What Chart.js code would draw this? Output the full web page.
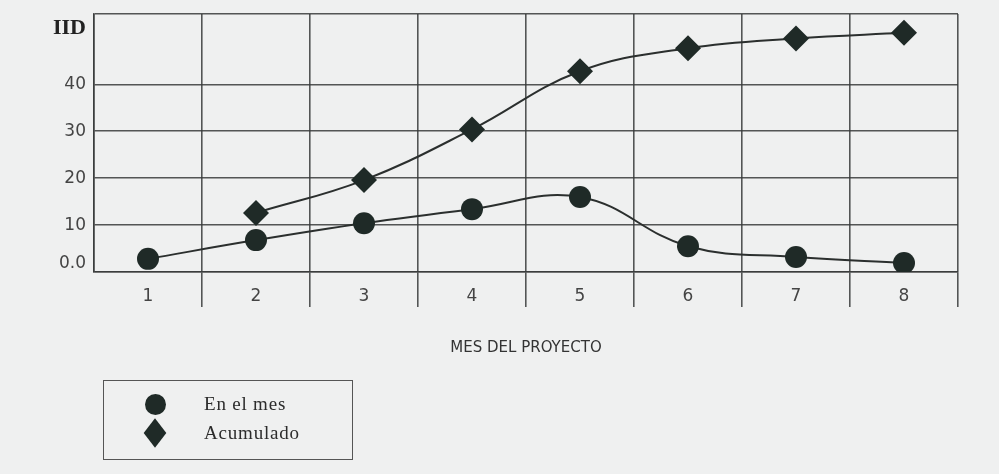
<!DOCTYPE html>
<html>
<head>
<meta charset="utf-8">
<script src="https://cdn.jsdelivr.net/npm/chart.js@4"></script>
<style>
  html, body { margin: 0; padding: 0; background: #eff0f0; }
  #wrap { position: relative; width: 999px; height: 474px; }
  #chart { position: absolute; left: 0; top: 0; }
  #legend {
    position: absolute; left: 103px; top: 380px; width: 250px; height: 80px;
    border: 1.5px solid #555; box-sizing: border-box;
    font-family: "Liberation Serif", "DejaVu Serif", serif; font-size: 19px; letter-spacing: 0.8px; color: #2c2c2c;
  }
  .item { position: absolute; left: 0; height: 26px; width: 100%; }
  .item .lbl { position: absolute; left: 100px; top: 1px; line-height: 22px; }
  .dot { position: absolute; left: 41px; top: 2px; width: 21px; height: 21px; border-radius: 50%; }
  .dia { position: absolute; left: 43px; top: 4px; width: 16px; height: 16px; transform: scaleY(1.3) rotate(45deg); }
</style>
</head>
<body>
<div id="wrap">
  <canvas id="chart" width="999" height="474"></canvas>
  <div id="legend"></div>
</div>
<script>
// Months of the project
const months = ['1', '2', '3', '4', '5', '6', '7', '8'];
// IID per month
const enElMes = [2.8, 6.8, 10.4, 13.4, 16.0, 5.5, 3.2, 1.9];
// Accumulated IID (no value in month 1)
const acumulado = [null, 12.6, 19.6, 30.4, 42.8, 47.7, 49.8, 51.0];
// Y axis tick positions and their labels ('' = grid line only)
const yTickValues = [0, 1.7, 10, 20, 30, 40, 52, 55];
const yTickLabels = ['', '0.0', '10', '20', '30', '40', 'IID', ''];
// Ticks that carry a label but no grid line
const yTickNoGrid = [1.7, 52];

const seriesNames = ['En el mes', 'Acumulado'];
const ink = '#1f2a27';
const gridCol = 'rgba(55,58,58,0.85)';

const chart = new Chart(document.getElementById('chart'), {
  type: 'line',
  data: {
    labels: months,
    datasets: [
      {
        label: seriesNames[0], data: enElMes,
        borderColor: '#2b2f2e', borderWidth: 2, tension: 0.4,
        pointStyle: 'circle', pointRadius: 11, pointBackgroundColor: ink, pointBorderColor: ink,
        pointBorderWidth: 0
      },
      {
        label: seriesNames[1], data: acumulado,
        borderColor: '#2b2f2e', borderWidth: 2, tension: 0.4,
        pointStyle: 'rectRot', pointRadius: 13, pointBackgroundColor: ink, pointBorderColor: ink,
        pointBorderWidth: 0
      }
    ]
  },
  options: {
    responsive: false,
    animation: false,
    layout: { padding: { left: 0, top: 14, right: 41, bottom: 113 } },
    plugins: { legend: { display: false }, tooltip: { enabled: false } },
    scales: {
      x: {
        type: 'category',
        offset: true,
        grid: {
          offset: true, color: gridCol, lineWidth: 1.6, tickLength: 35,
          tickColor: (c) => (c.index === 0 ? 'rgba(0,0,0,0)' : gridCol)
        },
        border: { display: true, color: gridCol, width: 1.6 },
        ticks: {
          padding: -21, color: '#444',
          font: { family: 'DejaVu Sans', size: 17 }
        },
        title: {
          display: true, text: 'MES DEL PROYECTO', color: '#333',
          font: { family: 'DejaVu Sans', size: 15 }
        },
        afterFit: (s) => { s.height = 89; s.paddingLeft = 0; s.paddingRight = 0; }
      },
      y: {
        min: 0, max: 55,
        afterBuildTicks: (s) => { s.ticks = yTickValues.map(v => ({ value: v })); },
        grid: {
          drawTicks: false, lineWidth: 1.6,
          color: (c) => (c.tick && yTickNoGrid.includes(c.tick.value) ? 'rgba(0,0,0,0)' : gridCol)
        },
        border: { display: true, color: gridCol, width: 1.6 },
        ticks: {
          padding: 8, color: (c) => (c.tick && c.tick.value === 52 ? '#222' : '#444'),
          autoSkip: false,
          callback: (v) => { const i = yTickValues.indexOf(v); return i >= 0 ? yTickLabels[i] : ''; },
          font: (c) => (c.tick && c.tick.value === 52
            ? { family: 'Liberation Serif', size: 22, weight: 'bold' }
            : { family: 'DejaVu Sans', size: 17 })
        },
        afterFit: (s) => { s.width = 94; s.paddingTop = 0; s.paddingBottom = 0; }
      }
    }
  }
});

// Boxed legend built from the chart's datasets
const legend = document.getElementById('legend');
chart.data.datasets.forEach((ds, i) => {
  const item = document.createElement('div');
  item.className = 'item';
  item.style.top = (11 + i * 29) + 'px';
  const mark = document.createElement('div');
  mark.className = ds.pointStyle === 'circle' ? 'dot' : 'dia';
  mark.style.background = ds.pointBackgroundColor;
  const lbl = document.createElement('span');
  lbl.className = 'lbl';
  lbl.textContent = ds.label;
  item.appendChild(mark);
  item.appendChild(lbl);
  legend.appendChild(item);
});
</script>
</body>
</html>
